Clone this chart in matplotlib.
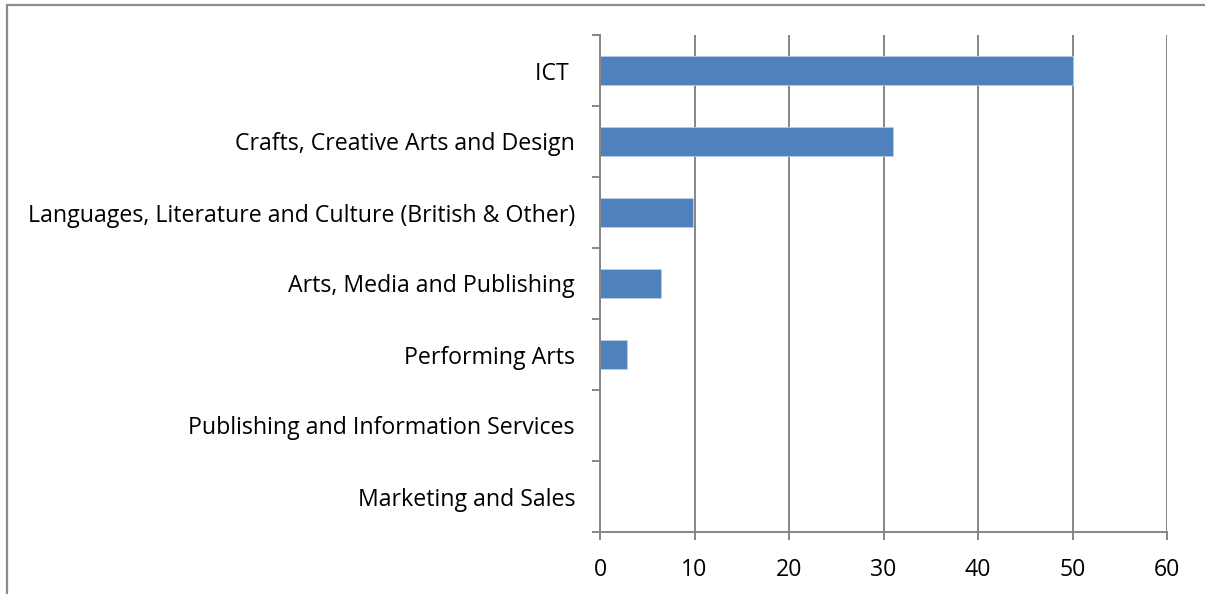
import matplotlib.pyplot as plt
from matplotlib.patches import Rectangle

# data, top to bottom as in the picture
categories = [
    "ICT ",
    "Crafts, Creative Arts and Design",
    "Languages, Literature and Culture (British & Other)",
    "Arts, Media and Publishing",
    "Performing Arts",
    "Publishing and Information Services",
    "Marketing and Sales",
]
values = [50.0, 31.0, 9.8, 6.5, 2.9, 0, 0]
x_ticks = [0, 10, 20, 30, 40, 50, 60]

plt.rcParams['font.family'] = ['Open Sans', 'DejaVu Sans']
grey = '#868686'
blue = '#4F81BD'

fig = plt.figure(figsize=(12.05, 5.94), dpi=100)
ax = fig.add_axes([600 / 1205, 62 / 594, 567 / 1205, 497 / 594])

pos = list(range(len(categories)))
ax.barh(pos, values, height=0.4, color=blue, edgecolor='#B9CDE5', linewidth=0.6, zorder=3)

ax.set_xlim(0, 60)
ax.set_ylim(len(categories) - 0.5, -0.5)
ax.set_xticks(x_ticks)
ax.set_xticklabels([str(t) for t in x_ticks])

ax.set_yticks(pos)
ax.set_yticklabels(categories)
ax.set_yticks([p - 0.5 for p in pos] + [len(categories) - 0.5], minor=True)

ax.tick_params(axis='y', which='major', length=0, pad=18, labelsize=16.7)
ax.tick_params(axis='y', which='minor', length=6, width=1.4, color=grey, direction='out')
ax.tick_params(axis='x', length=6, width=1.4, color=grey, pad=13, labelsize=16.7)

ax.grid(axis='x', color=grey, linewidth=1.4, zorder=0)
for s in ['top', 'right']:
    ax.spines[s].set_visible(False)
for s in ['left', 'bottom']:
    ax.spines[s].set_color(grey)
    ax.spines[s].set_linewidth(1.4)
    ax.spines[s].set_zorder(4)

# outer chart border (partly cut off in the picture)
fig.patches.append(Rectangle((7 / 1205, -0.1), 1.2, 1.1 - 5 / 594,
                             transform=fig.transFigure, fill=False,
                             edgecolor='#8C8C8C', linewidth=1.6))

fig.savefig('out.png', dpi=100)
